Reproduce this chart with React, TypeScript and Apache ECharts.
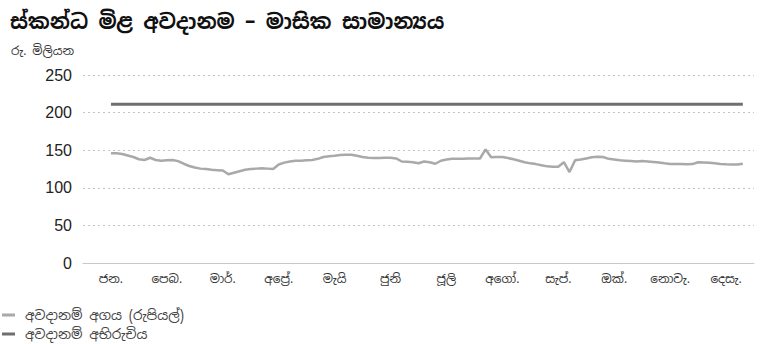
import React, { useEffect, useRef } from "react";
import * as echarts from "echarts";

const TITLE = "ස්කන්ධ මිළ අවදානම – මාසික සාමාන්‍යය";
const UNIT = "රු. මිලියන";
const MONTHS = ["ජන.", "පෙබ.", "මාර්.", "අප්‍රේ.", "මැයි", "ජුනි", "ජූලි", "අගෝ.", "සැප්.", "ඔක්.", "නොවැ.", "දෙසැ."];
const SERIES_RISK = "අවදානම් අගය (රුපියල්)";
const SERIES_LIMIT = "අවදානම් අභිරුචිය";
const Y_TICKS = [0, 50, 100, 150, 200, 250];
const POINTS_PER_MONTH = 10;

const riskValues = [
  146, 145.8, 145, 143, 141, 138, 137, 140, 137, 136,
  136.5, 137, 135.5, 132, 129, 127, 125.5, 125, 124, 123.5,
  123, 118, 120, 122, 124, 125, 125.5, 126, 125.5, 125,
  131, 133.5, 135, 136, 136, 136.5, 137, 138.5, 141, 142,
  142.5, 143.5, 144, 144, 142.5, 141, 140, 139.5, 139.5, 140,
  140, 139, 135, 134.5, 134, 132.6, 135, 134, 132, 136,
  137.5, 138.5, 138.5, 138.5, 138.8, 139, 139, 151, 140.5, 141,
  141, 139.5, 138, 136, 134, 132.5, 131.5, 130, 128.5, 128,
  128, 134, 121, 136.5, 137.5, 139, 140.5, 141.4, 141, 138.5,
  137.5, 136.5, 136, 135.5, 135, 135.5, 135, 134.3, 133.5, 132.5,
  131.7, 131.5, 131.5, 131.3, 131.5, 134, 133.7, 133.3, 132.5, 131.7,
  131.3, 131, 131, 132,
];
const limitValue = 211;

const FONT = "'Noto Sans Sinhala', 'Iskoola Pota', 'Noto Sans', 'DejaVu Sans', sans-serif";

export default function App() {
  const ref = useRef<HTMLDivElement>(null);
  useEffect(() => {
    if (!ref.current) return;
    const chart = echarts.init(ref.current, undefined, { renderer: "svg" });
    const riskData = riskValues.map((v, i) => [i / POINTS_PER_MONTH, v]);
    const lastX = (riskValues.length - 1) / POINTS_PER_MONTH;
    const limitData = [[0, limitValue], [lastX, limitValue]];
    chart.setOption({
      animation: false,
      backgroundColor: "#ffffff",
      textStyle: { fontFamily: FONT },
      title: [
        {
          text: TITLE,
          left: 5,
          top: 6,
          textStyle: { fontSize: 20.7, fontWeight: "bold", color: "#111", fontFamily: FONT },
        },
        {
          text: UNIT,
          left: 6,
          top: 40,
          textStyle: { fontSize: 12, fontWeight: "normal", color: "#333", fontFamily: FONT },
        },
      ],
      legend: {
        orient: "vertical",
        left: 2,
        top: 308,
        padding: 0,
        icon: "rect",
        itemWidth: 13,
        itemHeight: 3,
        itemGap: 5,
        textStyle: { fontSize: 13.5, color: "#444", fontFamily: FONT, padding: [0, 0, 0, 5] },
        data: [SERIES_RISK, SERIES_LIMIT],
      },
      grid: { left: 83, right: 6, top: 75, height: 188, containLabel: false },
      xAxis: [
        {
          type: "category",
          data: MONTHS,
          boundaryGap: true,
          axisLine: { show: true, lineStyle: { color: "#c8c8c8", width: 1 } },
          axisTick: { show: false },
          axisLabel: { fontSize: 12, color: "#333", margin: 10, fontFamily: FONT, interval: 0 },
          splitLine: { show: false },
        },
        {
          type: "value",
          min: -0.5,
          max: MONTHS.length - 0.5,
          show: false,
        },
      ],
      yAxis: {
        type: "value",
        min: Y_TICKS[0],
        max: Y_TICKS[Y_TICKS.length - 1],
        interval: 50,
        axisLine: { show: false },
        axisTick: { show: false },
        axisLabel: { fontSize: 16, color: "#222", margin: 11, fontFamily: "'Liberation Sans', Arial, sans-serif" },
        splitLine: { show: true, lineStyle: { color: "#c4c4c4", type: [2, 3], width: 1 } },
      },
      series: [
        {
          name: SERIES_RISK,
          type: "line",
          xAxisIndex: 1,
          data: riskData,
          symbol: "none",
          lineStyle: { color: "#a9a9ab", width: 2.5 },
          itemStyle: { color: "#a9a9ab" },
          z: 3,
        },
        {
          name: SERIES_LIMIT,
          type: "line",
          xAxisIndex: 1,
          data: limitData,
          symbol: "none",
          lineStyle: { color: "#6f6f71", width: 3 },
          itemStyle: { color: "#6f6f71" },
          z: 4,
        },
      ],
    });
    return () => chart.dispose();
  }, []);
  return (
    <div
      ref={ref}
      style={{ position: "fixed", left: 0, top: 0, width: 760, height: 344 }}
    />
  );
}
